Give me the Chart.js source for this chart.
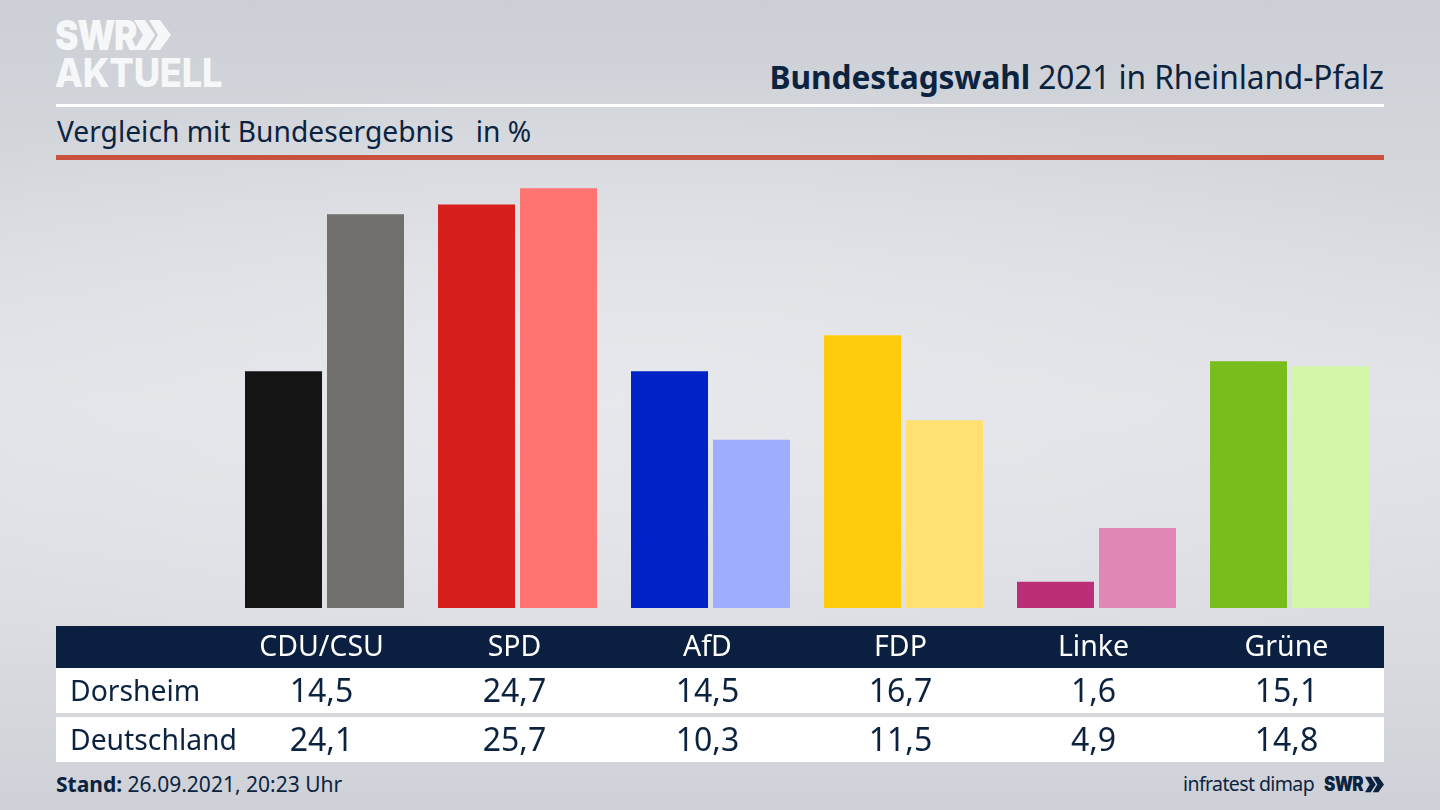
<!DOCTYPE html>
<html lang="de"><head><meta charset="utf-8">
<script src="https://cdn.jsdelivr.net/npm/chart.js@4"></script>
<style>
html,body{margin:0;padding:0}
body{width:1440px;height:810px;overflow:hidden;position:relative;font-family:"Noto Sans",sans-serif;color:#0c2340;
background:radial-gradient(ellipse 1000px 330px at 620px 400px,#e7e8ec 0%,rgba(231,232,236,0) 100%),linear-gradient(180deg,#ccd0d6 0%,#d3d6db 20%,#e2e3e8 50%,#d9dbe0 80%,#ced1d7 100%)}
.a{position:absolute;white-space:nowrap;line-height:1}
.b{position:absolute;left:56px;width:1328px}
canvas{position:absolute;left:0;top:0}
</style></head><body>
<div class="b" style="top:104px;height:3px;background:#fff"></div>
<div class="b" style="top:155px;height:5px;background:#c8523c"></div>
<div class="b" style="top:626px;height:42px;background:#0b2040"></div>
<div class="b" style="top:668px;height:45px;background:#fff"></div>
<div class="b" style="top:717px;height:45px;background:#fff"></div>

<div class="a" id="logo1" style="left:55px;top:15px;font:900 41px/1 Inter,sans-serif;color:#f6f7f8;letter-spacing:-1.5px;transform:scaleX(.86);transform-origin:left">SWR</div>
<svg class="a" style="left:134px;top:19px" width="37" height="32" viewBox="0 0 37 32"><path d="M0 1h11l10 15-10 15H0l9-15zM15 1h11l11 15-11 15H15l9-15z" fill="#f6f7f8"/></svg>
<div class="a" id="logo2" style="left:55px;top:53px;font:800 39px/1 Inter,sans-serif;color:#f6f7f8;letter-spacing:-.2px;transform:scaleX(.93);transform-origin:left">AKTUELL</div>

<div class="a" id="title" style="right:56px;top:60px;font-size:33px;letter-spacing:-.1px;transform:scaleX(.96);transform-origin:right"><b>Bundestagswahl</b> 2021 in Rheinland-Pfalz</div>
<div class="a" id="sub" style="left:57px;top:117px;font-size:28.2px;letter-spacing:0;white-space:pre">Vergleich mit Bundesergebnis   in %</div>
<div class="a" style="left:56px;top:774px;font-size:21px"><b>Stand:</b> 26.09.2021, 20:23 Uhr</div>
<div class="a" style="left:1183px;top:774px;font-size:19.5px;letter-spacing:-.6px">infratest dimap</div>
<div class="a" style="left:1324px;top:774px;font:900 20px/1 Inter,sans-serif;letter-spacing:-.8px;transform:scaleX(.85);transform-origin:left">SWR</div>
<svg class="a" style="left:1365px;top:776px" width="19" height="17" viewBox="0 0 37 32"><path d="M0 1h11l10 15-10 15H0l9-15zM15 1h11l11 15-11 15H15l9-15z" fill="#0c2340"/></svg>

<canvas id="c" width="1440" height="810"></canvas>
<script>
const categories = ["CDU/CSU","SPD","AfD","FDP","Linke","Grüne"];
const regionName = "Dorsheim";
const nationName = "Deutschland";
const regionValues = [14.5,24.7,14.5,16.7,1.6,15.1];
const nationValues = [24.1,25.7,10.3,11.5,4.9,14.8];
const regionColors = ["#141414","#d71f1d","#0022c6","#ffcc0c","#bb2f78","#78bd1c"];
const nationColors = ["#706f6c","#ff7370","#9fadff","#ffe070","#e087b6","#d4f6a8"];

const chart = new Chart(document.getElementById("c"), {
  type: "bar",
  data: { labels: categories, datasets: [
    { label: regionName, data: regionValues, backgroundColor: regionColors },
    { label: nationName, data: nationValues, backgroundColor: nationColors }
  ]},
  options: {
    responsive: false, animation: false, devicePixelRatio: 1,
    layout: { padding: { left: 228, right: 54, top: 118, bottom: 0 } },
    plugins: { legend: { display: false }, title: { display: false }, tooltip: { enabled: false } },
    datasets: { bar: { categoryPercentage: 164/193, barPercentage: 77/82 } },
    scales: {
      x: {
        afterFit: s => { s.height = 202; },
        grid: { display: false, drawTicks: false }, border: { display: false },
        ticks: { color: "#ffffff", maxRotation: 0, autoSkip: false, padding: 23, labelOffset: -3,
                 font: { family: "'Noto Sans'", size: 28.5 } }
      },
      y: { display: false, min: 0, max: 30 }
    }
  }
});

const fmt = v => v.toFixed(1).replace(".", ",");
function addText(txt, left, cy, size, center) {
  const d = document.createElement("div");
  d.className = "a";
  d.textContent = txt;
  d.style.fontSize = size + "px";
  d.style.top = (cy - size / 2 - 1) + "px";
  d.style.left = left + "px";
  if (center) d.style.transform = "translateX(-50%)";
  document.body.appendChild(d);
}
addText(regionName, 70, 691, 28.3, false);
addText(nationName, 70, 740, 28.3, false);
regionValues.forEach((v, i) => addText(fmt(v), chart.scales.x.getPixelForValue(i) - 3, 691, 32, true));
nationValues.forEach((v, i) => addText(fmt(v), chart.scales.x.getPixelForValue(i) - 3, 740, 32, true));
</script>
</body></html>
